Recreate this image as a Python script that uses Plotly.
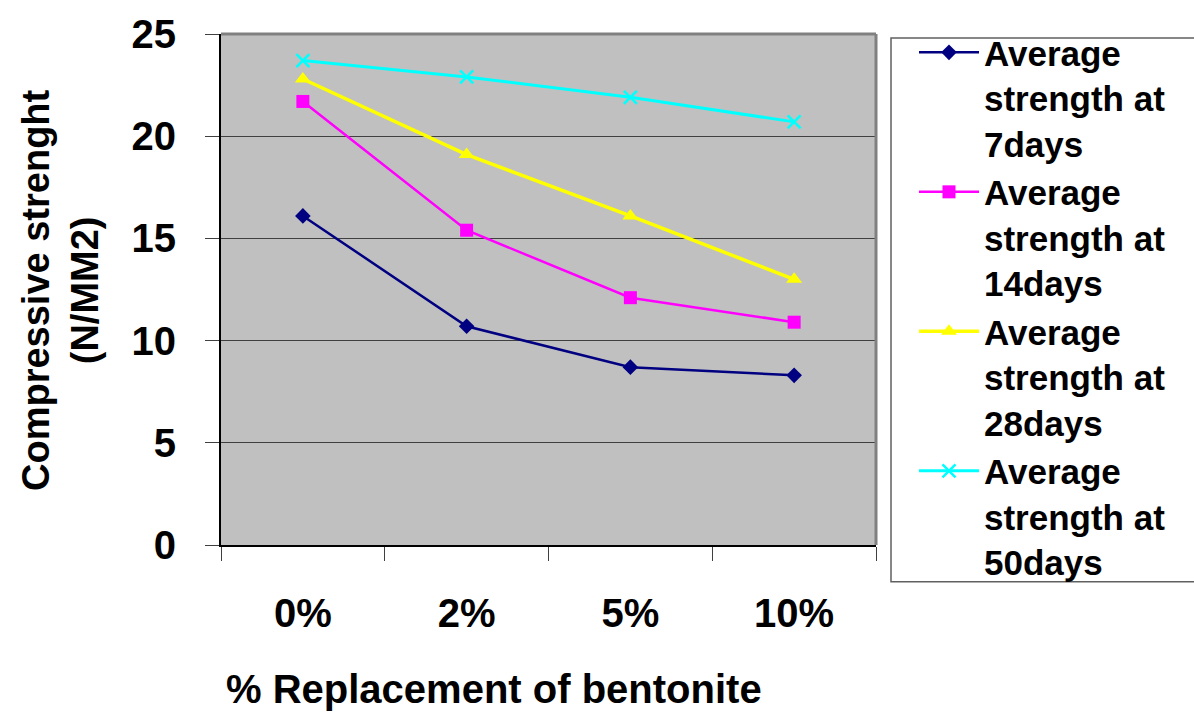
import plotly.graph_objects as go

# Compressive strength vs. bentonite replacement
categories = ["0%", "2%", "5%", "10%"]
strength_7 = [16.1, 10.7, 8.7, 8.3]
strength_14 = [21.7, 15.4, 12.1, 10.9]
strength_28 = [22.8, 19.1, 16.1, 13.0]
strength_50 = [23.7, 22.9, 21.9, 20.7]
series_names = [
    "Average<br>strength at<br>7days",
    "Average<br>strength at<br>14days",
    "Average<br>strength at<br>28days",
    "Average<br>strength at<br>50days",
]
y_ticks = [0, 5, 10, 15, 20, 25]

FONT = "Liberation Sans, Arial, sans-serif"

W, H = 1194, 713
L, R, T, B = 221, 876, 30, 545


def bold(size):
    return dict(family=FONT, size=size, color="black", weight="bold")


fig = go.Figure()

styles = [
    (strength_7, "#000080", dict(symbol="diamond", size=12, color="#000080"), 2.5),
    (strength_14, "#FF00FF", dict(symbol="square", size=13, color="#FF00FF"), 2.5),
    (strength_28, "#FFFF00", dict(symbol="triangle-up", size=14, color="#FFFF00"), 3.5),
    (strength_50, "#00FFFF", dict(symbol="x-thin", size=13, color="#00FFFF",
                                  line=dict(width=2.5, color="#00FFFF")), 3),
]
for (vals, col, mk, lw), name in zip(styles, series_names):
    fig.add_trace(go.Scatter(
        x=categories, y=vals, name=name, mode="lines+markers",
        line=dict(color=col, width=lw), marker=mk,
    ))

fig.update_layout(
    width=W, height=H,
    margin=dict(l=L, r=W - R, t=T, b=H - B),
    paper_bgcolor="white",
    plot_bgcolor="#C0C0C0",
    font=bold(20),
    showlegend=True,
    legend=dict(
        x=(914 - L) / (R - L), xanchor="left",
        y=1 - (19 - T) / (B - T), yanchor="top",
        bgcolor="rgba(0,0,0,0)", borderwidth=0,
        font=bold(35),
        valign="top", tracegroupgap=0,
        itemwidth=60,
        maxheight=1,
    ),
    xaxis=dict(
        type="category", range=[-0.5, 3.5],
        tickson="boundaries", ticks="outside", ticklen=14, tickcolor="#404040",
        tickfont=bold(40),
        showgrid=False, showline=True, linecolor="black", linewidth=1.5,
        ticklabelstandoff=32,
    ),
    yaxis=dict(
        range=[0, 25], tickvals=y_ticks,
        ticks="outside", ticklen=14, tickcolor="#404040",
        tickfont=bold(40),
        showgrid=True, gridcolor="#404040", gridwidth=1,
        zeroline=False,
        showline=True, linecolor="black", linewidth=2,
        ticklabelstandoff=21,
    ),
    shapes=[
        # plot area frame (top and right edges)
        dict(type="line", xref="paper", yref="paper", x0=0, x1=1, y0=1, y1=1,
             line=dict(color="#808080", width=3)),
        dict(type="line", xref="paper", yref="paper", x0=1, x1=1, y0=0, y1=1,
             line=dict(color="#808080", width=3)),
        # legend frame
        dict(type="rect", xref="paper", yref="paper",
             x0=(891 - L) / (R - L), x1=(1200 - L) / (R - L),
             y0=1 - (582 - T) / (B - T), y1=1 - (34 - T) / (B - T),
             line=dict(color="#606060", width=1.5), fillcolor="rgba(0,0,0,0)"),
    ],
    annotations=[
        dict(text="% Replacement of bentonite", xref="paper", yref="paper",
             x=(494 - L) / (R - L), y=1 - (690 - T) / (B - T),
             xanchor="center", yanchor="middle", showarrow=False,
             font=bold(40)),
        dict(text="Compressive strenght<br>(N/MM2)", xref="paper", yref="paper",
             x=(61 - L) / (R - L), y=1 - (288 - T) / (B - T),
             xanchor="center", yanchor="middle", showarrow=False, textangle=-90,
             align="center",
             font=bold(38)),
    ],
)

fig.write_html("out.html")
